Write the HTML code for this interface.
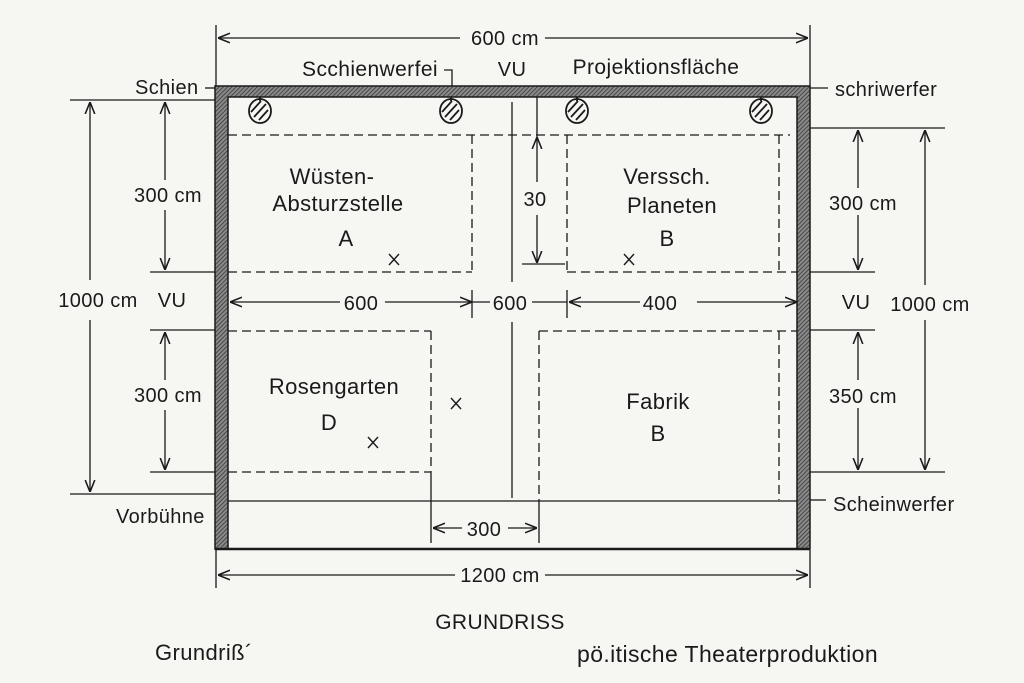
<!DOCTYPE html>
<html><head><meta charset="utf-8"><style>
html,body{margin:0;padding:0;background:#f6f6f3;}
svg{display:block}
text{font-family:"Liberation Sans","DejaVu Sans",sans-serif;fill:#1a1a1a;letter-spacing:0.4px}
</style></head><body>
<svg width="1024" height="683" viewBox="0 0 1024 683" xmlns="http://www.w3.org/2000/svg">
<defs>
<pattern id="h" width="3" height="3" patternUnits="userSpaceOnUse" patternTransform="rotate(45)">
<rect width="3" height="3" fill="#8a8a8a"/><line x1="0" y1="0" x2="0" y2="3" stroke="#333" stroke-width="1.5"/>
</pattern>
<marker id="a" viewBox="0 0 10 10" refX="10" refY="5" markerWidth="12" markerHeight="12" orient="auto-start-reverse" markerUnits="userSpaceOnUse">
<path d="M0,1 L10,5 L0,9" fill="none" stroke="#1a1a1a" stroke-width="1.3"/>
</marker>
</defs>
<rect width="1024" height="683" fill="#f6f6f3"/>
<g stroke="#1a1a1a" stroke-width="1.3" fill="none">
<line x1="216" y1="25" x2="216" y2="86"/><line x1="810" y1="25" x2="810" y2="86"/>
<line x1="216" y1="550" x2="216" y2="588"/><line x1="810" y1="550" x2="810" y2="588"/>
<line x1="70" y1="100" x2="215" y2="100"/><line x1="70" y1="494" x2="215" y2="494"/>
<line x1="150" y1="272" x2="228" y2="272"/><line x1="150" y1="330" x2="228" y2="330"/><line x1="150" y1="472" x2="228" y2="472"/>
<line x1="810" y1="128" x2="945" y2="128"/><line x1="810" y1="472" x2="945" y2="472"/>
<line x1="810" y1="272" x2="875" y2="272"/><line x1="810" y1="330" x2="875" y2="330"/>
<line x1="205" y1="88" x2="216" y2="88"/><line x1="810" y1="88" x2="828" y2="88"/><line x1="810" y1="500" x2="826" y2="500"/>
<line x1="218" y1="38" x2="460" y2="38" marker-start="url(#a)"/><line x1="545" y1="38" x2="808" y2="38" marker-end="url(#a)"/>
<line x1="218" y1="575" x2="455" y2="575" marker-start="url(#a)"/><line x1="545" y1="575" x2="808" y2="575" marker-end="url(#a)"/>
<line x1="90" y1="102" x2="90" y2="280" marker-start="url(#a)"/><line x1="90" y1="320" x2="90" y2="492" marker-end="url(#a)"/>
<line x1="165" y1="102" x2="165" y2="180" marker-start="url(#a)"/><line x1="165" y1="210" x2="165" y2="270" marker-end="url(#a)"/>
<line x1="165" y1="332" x2="165" y2="380" marker-start="url(#a)"/><line x1="165" y1="410" x2="165" y2="470" marker-end="url(#a)"/>
<line x1="925" y1="130" x2="925" y2="285" marker-start="url(#a)"/><line x1="925" y1="320" x2="925" y2="470" marker-end="url(#a)"/>
<line x1="858" y1="130" x2="858" y2="188" marker-start="url(#a)"/><line x1="858" y1="215" x2="858" y2="270" marker-end="url(#a)"/>
<line x1="858" y1="332" x2="858" y2="380" marker-start="url(#a)"/><line x1="858" y1="408" x2="858" y2="470" marker-end="url(#a)"/>
<line x1="230" y1="302" x2="340" y2="302" marker-start="url(#a)"/><line x1="385" y1="302" x2="472" y2="302" marker-end="url(#a)"/>
<line x1="472" y1="302" x2="490" y2="302"/><line x1="532" y1="302" x2="567" y2="302"/>
<line x1="569" y1="302" x2="640" y2="302" marker-start="url(#a)"/><line x1="697" y1="302" x2="797" y2="302" marker-end="url(#a)"/>
<line x1="472" y1="290" x2="472" y2="318"/><line x1="567" y1="290" x2="567" y2="318"/>
<line x1="433" y1="528" x2="462" y2="528" marker-start="url(#a)"/><line x1="508" y1="528" x2="537" y2="528" marker-end="url(#a)"/>
<line x1="537" y1="137" x2="537" y2="182" marker-start="url(#a)"/><line x1="537" y1="215" x2="537" y2="263" marker-end="url(#a)"/>
<line x1="537" y1="97" x2="537" y2="137"/><line x1="522" y1="264" x2="565" y2="264"/>
<line x1="512" y1="102" x2="512" y2="282"/><line x1="512" y1="322" x2="512" y2="498"/>
<line x1="228" y1="501" x2="797" y2="501"/>
<line x1="431" y1="472" x2="431" y2="543"/><line x1="539" y1="500" x2="539" y2="543"/>
<path d="M452,97 V70 H444" />
<path d="M389,254 l10,11 M399,254 l-10,11 M624,254 l10,11 M634,254 l-10,11 M451,398 l10,11 M461,398 l-10,11 M368,437 l10,11 M378,437 l-10,11" stroke-width="1.4"/>
</g>
<g stroke="#1a1a1a" stroke-width="1.3" fill="none" stroke-dasharray="9,5">
<line x1="228" y1="135" x2="790" y2="135"/>
<line x1="472" y1="135" x2="472" y2="272"/><line x1="228" y1="272" x2="472" y2="272"/>
<line x1="567" y1="135" x2="567" y2="272"/><line x1="567" y1="272" x2="810" y2="272"/>
<line x1="779" y1="135" x2="779" y2="272"/>
<line x1="228" y1="331" x2="431" y2="331"/><line x1="431" y1="331" x2="431" y2="472"/><line x1="228" y1="472" x2="431" y2="472"/>
<line x1="539" y1="331" x2="810" y2="331"/><line x1="539" y1="331" x2="539" y2="500"/><line x1="779" y1="331" x2="779" y2="500"/>
</g>
<path d="M215,86 H810 V549 H797 V97 H228 V549 H215 Z" fill="url(#h)" stroke="#1a1a1a" stroke-width="1.5"/>
<line x1="215" y1="549" x2="810" y2="549" stroke="#1a1a1a" stroke-width="2.5"/>
<g stroke="#1a1a1a" stroke-width="1.8" fill="none">
<g transform="translate(260,111)"><line x1="0" y1="-14" x2="0" y2="-10"/><ellipse rx="11" ry="12"/><line x1="-6" y1="6" x2="6" y2="-7"/><line x1="-1" y1="9" x2="8" y2="-1"/><line x1="-9" y1="1" x2="1" y2="-10"/></g>
<g transform="translate(451,111)"><line x1="0" y1="-14" x2="0" y2="-10"/><ellipse rx="11" ry="12"/><line x1="-6" y1="6" x2="6" y2="-7"/><line x1="-1" y1="9" x2="8" y2="-1"/><line x1="-9" y1="1" x2="1" y2="-10"/></g>
<g transform="translate(577,111)"><line x1="0" y1="-14" x2="0" y2="-10"/><ellipse rx="11" ry="12"/><line x1="-6" y1="6" x2="6" y2="-7"/><line x1="-1" y1="9" x2="8" y2="-1"/><line x1="-9" y1="1" x2="1" y2="-10"/></g>
<g transform="translate(761,111)"><line x1="0" y1="-14" x2="0" y2="-10"/><ellipse rx="11" ry="12"/><line x1="-6" y1="6" x2="6" y2="-7"/><line x1="-1" y1="9" x2="8" y2="-1"/><line x1="-9" y1="1" x2="1" y2="-10"/></g>
</g>
<g font-size="20" text-anchor="middle">
<text x="505" y="45">600 cm</text>
<text x="500" y="582">1200 cm</text>
<text x="512" y="76">VU</text>
<text x="656" y="74" font-size="21">Projektionsfläche</text>
<text x="370" y="76" font-size="21">Scchienwerfei</text>
<text x="332" y="184" font-size="22">Wüsten-</text>
<text x="338" y="211" font-size="22">Absturzstelle</text>
<text x="346" y="246" font-size="22">A</text>
<text x="667" y="184" font-size="22">Verssch.</text>
<text x="672" y="213" font-size="22">Planeten</text>
<text x="667" y="246" font-size="22">B</text>
<text x="535" y="206">30</text>
<text x="361" y="310">600</text>
<text x="510" y="310">600</text>
<text x="660" y="310">400</text>
<text x="334" y="394" font-size="22">Rosengarten</text>
<text x="329" y="430" font-size="22">D</text>
<text x="658" y="409" font-size="22">Fabrik</text>
<text x="658" y="441" font-size="22">B</text>
<text x="484" y="536">300</text>
<text x="168" y="202">300 cm</text>
<text x="168" y="402">300 cm</text>
<text x="172" y="307">VU</text>
<text x="98" y="307">1000 cm</text>
<text x="863" y="210">300 cm</text>
<text x="863" y="403">350 cm</text>
<text x="856" y="309">VU</text>
<text x="930" y="311">1000 cm</text>
<text x="500" y="629" font-size="21" letter-spacing="1.5">GRUNDRISS</text>
</g>
<g font-size="20">
<text x="135" y="94">Schien</text>
<text x="835" y="96">schriwerfer</text>
<text x="833" y="511">Scheinwerfer</text>
<text x="116" y="523">Vorbühne</text>
<text x="155" y="660" font-size="22" letter-spacing="1">Grundriß´</text>
<text x="577" y="662" font-size="23" letter-spacing="1.2">pö.itische Theaterproduktion</text>
</g>
</svg>
</body></html>
